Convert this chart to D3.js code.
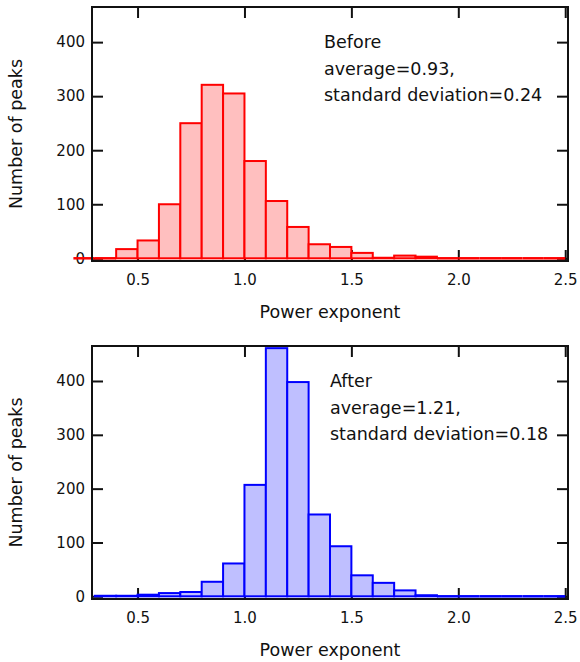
<!DOCTYPE html>
<html>
<head>
<meta charset="utf-8">
<script src="https://cdn.jsdelivr.net/npm/d3@7"></script>
<style>
    body { margin: 0; background: #fff; }
    text { font-family: 'DejaVu Sans', sans-serif; fill: #111; }
</style>
</head>
<body>
<div id="chart"></div>
<script>
// bin left edges (width 0.1) and counts
const beforeBins = [0.2, 0.3, 0.4, 0.5, 0.6, 0.7, 0.8, 0.9, 1.0, 1.1, 1.2, 1.3, 1.4, 1.5, 1.6, 1.7, 1.8, 1.9, 2.0, 2.1, 2.2, 2.3, 2.4]
const beforeCounts = [0, 0, 17, 33, 100, 250, 321, 305, 180, 106, 58, 26, 21, 10, 1, 5, 3, 0, 0, 0, 0, 0, 0]
const afterBins = [0.3, 0.4, 0.5, 0.6, 0.7, 0.8, 0.9, 1.0, 1.1, 1.2, 1.3, 1.4, 1.5, 1.6, 1.7, 1.8, 1.9, 2.0, 2.1, 2.2, 2.3, 2.4]
const afterCounts = [1, 1, 3, 6, 8, 27, 61, 207, 461, 398, 152, 93, 39, 25, 11, 2, 0, 0, 0, 0, 0, 0]
const binWidth = 0.1
const xTicks = [0.5, 1.0, 1.5, 2.0, 2.5]
const yTicks = [0, 100, 200, 300, 400]
const beforeNotes = ['Before', 'average=0.93,', 'standard deviation=0.24']
const afterNotes = ['After', 'average=1.21,', 'standard deviation=0.18']

const width = 580
const height = 662
const svg = d3.select('#chart').append('svg')
    .attr('width', width).attr('height', height)

const x = d3.scaleLinear().domain([0.287, 2.513]).range([92, 568])
const tickLen = 11

drawPanel({ top: 7, bottom: 261, bins: beforeBins, counts: beforeCounts,
    fill: '#ffbfbf', stroke: '#ff0000', notes: beforeNotes, noteX: 324 })
drawPanel({ top: 346, bottom: 599, bins: afterBins, counts: afterCounts,
    fill: '#bfbfff', stroke: '#0000ff', notes: afterNotes, noteX: 330 })

function drawPanel(p) {
    const y = d3.scaleLinear().domain([-5, 465]).range([p.bottom, p.top])
    const g = svg.append('g')
    const data = p.bins.map((b, i) => ({ x0: b, count: p.counts[i] }))

    // inward ticks on all four sides
    const axisBottom = g.append('g')
        .attr('transform', `translate(0,${p.bottom})`)
        .call(d3.axisBottom(x).tickValues(xTicks).tickFormat(d3.format('.1f'))
            .tickSizeInner(-tickLen).tickSizeOuter(0).tickPadding(13))
    const axisTop = g.append('g')
        .attr('transform', `translate(0,${p.top})`)
        .call(d3.axisTop(x).tickValues(xTicks).tickFormat('')
            .tickSizeInner(-tickLen).tickSizeOuter(0))
    const axisLeft = g.append('g')
        .attr('transform', `translate(${x.range()[0]},0)`)
        .call(d3.axisLeft(y).tickValues(yTicks)
            .tickSizeInner(-tickLen).tickSizeOuter(0).tickPadding(7))
    const axisRight = g.append('g')
        .attr('transform', `translate(${x.range()[1]},0)`)
        .call(d3.axisRight(y).tickValues(yTicks).tickFormat('')
            .tickSizeInner(-tickLen).tickSizeOuter(0))

    for (const a of [axisBottom, axisTop, axisLeft, axisRight]) {
        a.select('.domain').remove()
        a.selectAll('line').attr('stroke', '#111').attr('stroke-width', 2)
        a.selectAll('text').style('font-size', '15px').attr('fill', '#111')
    }

    g.selectAll('.bar')
        .data(data.filter(d => d.count > 0))
        .join('rect').attr('class', 'bar')
        .attr('x', d => x(d.x0))
        .attr('width', d => x(d.x0 + binWidth) - x(d.x0))
        .attr('y', d => y(d.count))
        .attr('height', d => y(0) - y(d.count))
        .attr('fill', p.fill)
        .attr('stroke', p.stroke)
        .attr('stroke-width', 2)

    // empty bins still show as a line along zero
    g.selectAll('.empty')
        .data(data.filter(d => d.count == 0))
        .join('line').attr('class', 'empty')
        .attr('x1', d => x(d.x0))
        .attr('x2', d => x(d.x0 + binWidth))
        .attr('y1', y(0)).attr('y2', y(0))
        .attr('stroke', p.stroke)
        .attr('stroke-width', 2.5)

    g.append('rect')
        .attr('x', x.range()[0]).attr('y', p.top)
        .attr('width', x.range()[1] - x.range()[0])
        .attr('height', p.bottom - p.top)
        .attr('fill', 'none').attr('stroke', '#111').attr('stroke-width', 2)

    g.append('text')
        .attr('x', (x.range()[0] + x.range()[1]) / 2)
        .attr('y', p.bottom + 57)
        .attr('text-anchor', 'middle')
        .style('font-size', '17.5px')
        .text('Power exponent')

    g.append('text')
        .attr('transform', `translate(22,${(p.top + p.bottom) / 2}) rotate(-90)`)
        .attr('text-anchor', 'middle')
        .style('font-size', '17.5px')
        .text('Number of peaks')

    g.selectAll('.note')
        .data(p.notes)
        .join('text').attr('class', 'note')
        .attr('x', p.noteX)
        .attr('y', (d, i) => p.top + 41 + i * 26.7)
        .style('font-size', '17.5px')
        .text(d => d)
}
</script>
</body>
</html>
